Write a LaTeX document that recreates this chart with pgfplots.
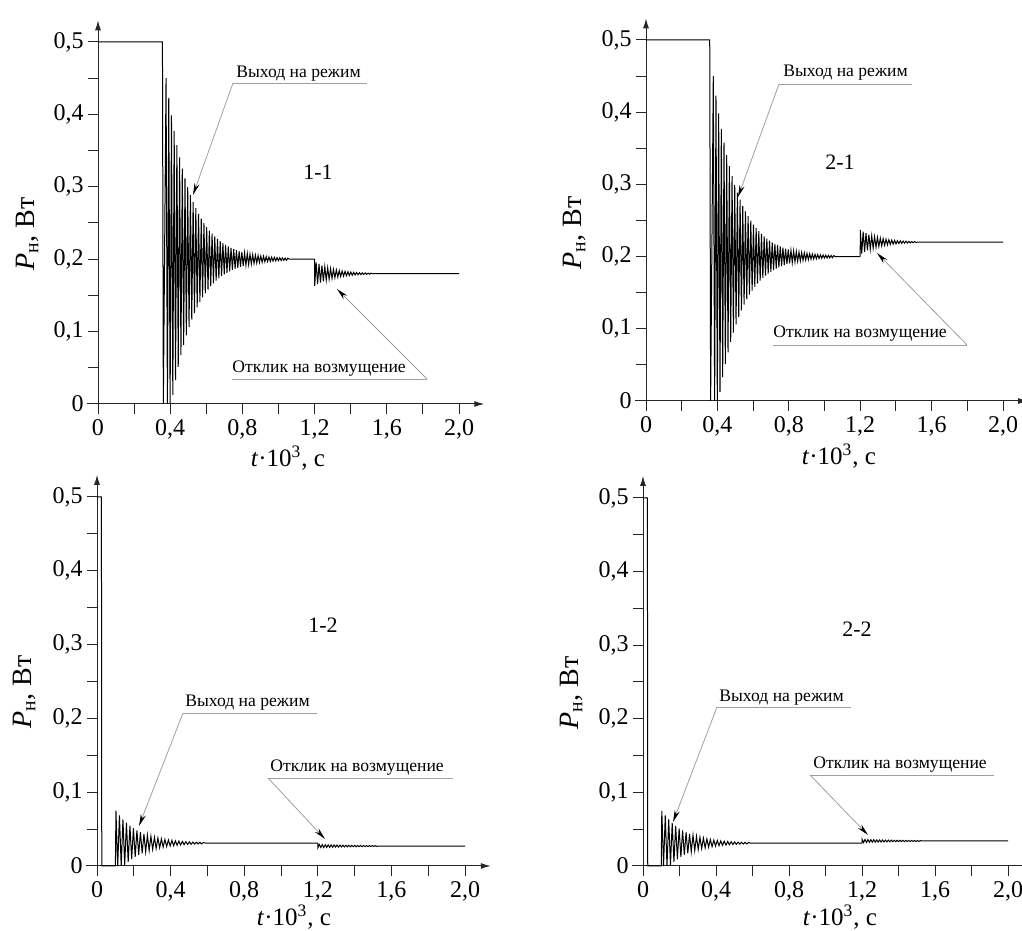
\documentclass[border=0pt]{standalone}
\usepackage{fontspec}
\setmainfont{Liberation Serif}
\usepackage{pgfplots}
\usepackage{pgfplotstable}
\pgfplotsset{compat=1.18}
\usetikzlibrary{arrows.meta}

% main transient, top row (1-1, 2-1)
\pgfplotstableread{
t p
0 0.5
0.357 0.5
0.362 0
0.377 0.450
0.3845 0
0.392 0.4228
0.3995 0
0.407 0.3985
0.4145 0.0126
0.422 0.3769
0.4295 0.0330
0.437 0.3577
0.4445 0.0512
0.452 0.3405
0.4595 0.0674
0.467 0.3252
0.4745 0.0818
0.482 0.3116
0.4895 0.0947
0.497 0.2994
0.5045 0.1061
0.512 0.2886
0.5195 0.1164
0.527 0.2790
0.5345 0.1255
0.542 0.2704
0.5495 0.1336
0.557 0.2627
0.5645 0.1408
0.572 0.2559
0.5795 0.1472
0.587 0.2498
0.5945 0.1530
0.602 0.2444
0.6095 0.1581
0.617 0.2396
0.6245 0.1627
0.632 0.2352
0.6395 0.1667
0.647 0.2314
0.6545 0.1704
0.662 0.2280
0.6695 0.1736
0.677 0.2249
0.6845 0.1765
0.692 0.2222
0.6995 0.1790
0.707 0.2198
0.7145 0.1813
0.722 0.2177
0.7295 0.1833
0.737 0.2157
0.7445 0.1852
0.752 0.2140
0.7595 0.1868
0.767 0.2125
0.7745 0.1882
0.782 0.2111
0.7895 0.1895
0.797 0.2099
0.8045 0.1906
0.812 0.2088
0.8195 0.1917
0.827 0.2079
0.8345 0.1926
0.842 0.2070
0.8495 0.1934
0.857 0.2063
0.8645 0.1941
0.872 0.2056
0.8795 0.1947
0.887 0.2050
0.8945 0.1953
0.902 0.2044
0.9095 0.1958
0.917 0.2040
0.9245 0.1963
0.932 0.2035
0.9395 0.1967
0.947 0.2031
0.9545 0.1970
0.962 0.2028
0.9695 0.1974
0.977 0.2025
0.9845 0.1977
0.992 0.2022
0.9995 0.1979
1.007 0.2020
1.0145 0.1981
1.022 0.2018
1.0295 0.1983
1.037 0.2016
1.0445 0.1985
1.052 0.2014
1.06 0.2
1.2 0.2
}\mainTop

% main transient, bottom row (1-2, 2-2)
\pgfplotstableread{
t p
0 0.5
0.024 0.5
0.026 0
0.100 0
0.103 0.075
0.1125 0
0.122 0.0686
0.1315 0
0.141 0.0632
0.1505 0.0012
0.160 0.0586
0.1695 0.0055
0.179 0.0546
0.1885 0.0092
0.198 0.0512
0.2075 0.0123
0.217 0.0483
0.2265 0.0150
0.236 0.0458
0.2455 0.0173
0.255 0.0436
0.2645 0.0193
0.274 0.0418
0.2835 0.0210
0.293 0.0402
0.3025 0.0225
0.312 0.0389
0.3215 0.0237
0.331 0.0378
0.3405 0.0247
0.350 0.0368
0.3595 0.0256
0.369 0.0360
0.3785 0.0264
0.388 0.0352
0.3975 0.0271
0.407 0.0346
0.4165 0.0276
0.426 0.0341
0.4355 0.0281
0.445 0.0337
0.4545 0.0285
0.464 0.0333
0.4735 0.0289
0.483 0.0330
0.4925 0.0292
0.502 0.0327
0.5115 0.0294
0.521 0.0324
0.5305 0.0297
0.540 0.0322
0.5495 0.0299
0.559 0.0321
0.5685 0.0300
0.578 0.0319
0.59 0.031
1.2 0.031
}\mainBot

% response to disturbance, 1-1
\pgfplotstableread{
t p
1.2 0.2
1.2005 0.163
1.2085 0.1957
1.2165 0.1655
1.2245 0.1934
1.2325 0.1677
1.2405 0.1914
1.2485 0.1695
1.2565 0.1897
1.2645 0.1711
1.2725 0.1882
1.2805 0.1724
1.2885 0.1870
1.2965 0.1735
1.3045 0.1860
1.3125 0.1745
1.3205 0.1851
1.3285 0.1753
1.3365 0.1843
1.3445 0.1760
1.3525 0.1837
1.3605 0.1766
1.3685 0.1832
1.3765 0.1771
1.3845 0.1827
1.3925 0.1775
1.4005 0.1823
1.4085 0.1779
1.4165 0.1819
1.4245 0.1782
1.4325 0.1816
1.4405 0.1785
1.4485 0.1814
1.4565 0.1787
1.4645 0.1812
1.4725 0.1789
1.4805 0.1810
1.4885 0.1791
1.4965 0.1808
1.5045 0.1792
1.5125 0.1807
1.52 0.18
2.0 0.18
}\distA

% response to disturbance, 2-1
\pgfplotstableread{
t p
1.2 0.2
1.2005 0.2370
1.2085 0.2043
1.2165 0.2345
1.2245 0.2066
1.2325 0.2323
1.2405 0.2086
1.2485 0.2305
1.2565 0.2103
1.2645 0.2289
1.2725 0.2118
1.2805 0.2276
1.2885 0.2130
1.2965 0.2265
1.3045 0.2140
1.3125 0.2255
1.3205 0.2149
1.3285 0.2247
1.3365 0.2157
1.3445 0.2240
1.3525 0.2163
1.3605 0.2234
1.3685 0.2168
1.3765 0.2229
1.3845 0.2173
1.3925 0.2225
1.4005 0.2177
1.4085 0.2221
1.4165 0.2181
1.4245 0.2218
1.4325 0.2184
1.4405 0.2215
1.4485 0.2186
1.4565 0.2213
1.4645 0.2188
1.4725 0.2211
1.4805 0.2190
1.4885 0.2209
1.4965 0.2192
1.5045 0.2208
1.5125 0.2193
1.52 0.22
2.0 0.22
}\distB

% response to disturbance, 1-2
\pgfplotstableread{
t p
1.2 0.031
1.2005 0.0248
1.2085 0.0291
1.2165 0.0250
1.2245 0.0290
1.2325 0.0251
1.2405 0.0288
1.2485 0.0252
1.2565 0.0287
1.2645 0.0253
1.2725 0.0286
1.2805 0.0255
1.2885 0.0285
1.2965 0.0256
1.3045 0.0284
1.3125 0.0257
1.3205 0.0283
1.3285 0.0258
1.3365 0.0282
1.3445 0.0258
1.3525 0.0281
1.3605 0.0259
1.3685 0.0280
1.3765 0.0260
1.3845 0.0280
1.3925 0.0261
1.4005 0.0279
1.4085 0.0261
1.4165 0.0278
1.4245 0.0262
1.4325 0.0278
1.4405 0.0262
1.4485 0.0277
1.4565 0.0263
1.4645 0.0277
1.4725 0.0263
1.4805 0.0276
1.4885 0.0264
1.4965 0.0276
1.5045 0.0264
1.5125 0.0276
1.5205 0.0265
1.53 0.027
2.0 0.027
}\distC

% response to disturbance, 2-2
\pgfplotstableread{
t p
1.2 0.031
1.2005 0.0362
1.2085 0.0319
1.2165 0.0360
1.2245 0.0320
1.2325 0.0359
1.2405 0.0322
1.2485 0.0358
1.2565 0.0323
1.2645 0.0357
1.2725 0.0324
1.2805 0.0355
1.2885 0.0325
1.2965 0.0354
1.3045 0.0326
1.3125 0.0353
1.3205 0.0327
1.3285 0.0352
1.3365 0.0328
1.3445 0.0352
1.3525 0.0329
1.3605 0.0351
1.3685 0.0330
1.3765 0.0350
1.3845 0.0330
1.3925 0.0349
1.4005 0.0331
1.4085 0.0349
1.4165 0.0332
1.4245 0.0348
1.4325 0.0332
1.4405 0.0348
1.4485 0.0333
1.4565 0.0347
1.4645 0.0333
1.4725 0.0347
1.4805 0.0334
1.4885 0.0346
1.4965 0.0334
1.5045 0.0346
1.5125 0.0334
1.5205 0.0345
1.53 0.034
2.0 0.034
}\distD

\pgfplotsset{
  panel/.style={
    axis lines=left, anchor=south west, clip=false,
    xmin=0, xmax=2.14, ymin=0, ymax=0.53,
    axis line style={line width=0.5pt, black!85, -{Latex[length=5pt,width=3pt]}},
    tick align=outside, major tick length=5pt, minor tick length=5pt,
    tick style={line width=0.5pt, black!85},
    xtick={0,0.4,0.8,1.2,1.6,2.0},
    xticklabels={0,{0,4},{0,8},{1,2},{1,6},{2,0}},
    minor xtick={0.2,0.6,1.0,1.4,1.8},
    ytick={0,0.1,0.2,0.3,0.4,0.5},
    yticklabels={0,{0,1},{0,2},{0,3},{0,4},{0,5}},
    minor ytick={0.05,0.15,0.25,0.35,0.45},
    tick label style={font=\fontsize{12}{14}\selectfont},
    yticklabel style={inner sep=2pt},
    xticklabel style={inner sep=2.5pt},
  },
  sig/.style={black, line width=0.5pt, no marks},
}

\newcommand{\lblfont}{\fontsize{8.8}{10}\selectfont}

\begin{document}
\begin{tikzpicture}
\useasboundingbox (0,0) rectangle (511pt,465.5pt);

\begin{axis}[panel, at={(49pt,263.5pt)}, x=90.25pt, y=362pt]
\addplot[sig] table[x=t,y=p] {\mainTop};
\addplot[sig] table[x=t,y=p] {\distA};
\end{axis}

\begin{axis}[panel, at={(323pt,265pt)}, x=89.25pt, y=361pt]
\addplot[sig] table[x=t,y=p] {\mainTop};
\addplot[sig] table[x=t,y=p] {\distB};
\end{axis}

\begin{axis}[panel, at={(48.5pt,32.5pt)}, x=92pt, y=369pt]
\addplot[sig] table[x=t,y=p] {\mainBot};
\addplot[sig] table[x=t,y=p] {\distC};
\end{axis}

\begin{axis}[panel, at={(321.5pt,32.5pt)}, x=91.25pt, y=368pt]
\addplot[sig] table[x=t,y=p] {\mainBot};
\addplot[sig] table[x=t,y=p] {\distD};
\end{axis}

% annotations in image pixel units
\begin{scope}[x=0.5pt, y=-0.5pt, shift={(0pt,465.5pt)}]
  \tikzset{lead/.style={gray!75, line width=0.4pt},
           arr/.style={lead, -{Stealth[length=6pt,width=2.6pt,color=black]}}}
  % x axis stubs left of the y axis
  \draw[line width=0.5pt, black!85] (87,404) -- (98,404);
  \draw[line width=0.5pt, black!85] (635,401) -- (646,401);
  \draw[line width=0.5pt, black!85] (86,866) -- (97,866);
  \draw[line width=0.5pt, black!85] (632,866) -- (643,866);

  % axis titles
  \foreach \px/\py in {27/234, 574/233, 24/692, 571/693}
    \node[rotate=90, font=\fontsize{14}{16}\selectfont] at (\px,\py) {\textit{P}\textsubscript{н}, Вт};
  \foreach \px/\py in {288/458, 839/456, 294/917, 840/917}
    \node[font=\fontsize{12.5}{14}\selectfont, inner sep=0pt] at (\px,\py) {\textit{t}·10\textsuperscript{3}, с};

  % case numbers
  \node[font=\fontsize{11}{13}\selectfont] at (318,172) {1-1};
  \node[font=\fontsize{11}{13}\selectfont] at (840,162) {2-1};
  \node[font=\fontsize{11}{13}\selectfont] at (323,625) {1-2};
  \node[font=\fontsize{11}{13}\selectfont] at (857,629) {2-2};

  % 1-1
  \node[font=\lblfont, anchor=base west, inner sep=0pt] at (236,78) {Выход на режим};
  \draw[lead] (233,83) -- (367,83);
  \draw[arr] (233,83) -- (193,195);
  \node[font=\lblfont, anchor=base west, inner sep=0pt] at (232,373) {Отклик на возмущение};
  \draw[lead] (232,379) -- (427,379);
  \draw[arr] (427,379) -- (337,289);

  % 2-1
  \node[font=\lblfont, anchor=base west, inner sep=0pt] at (783,77) {Выход на режим};
  \draw[lead] (779,84) -- (912,84);
  \draw[arr] (779,84) -- (738,197);
  \node[font=\lblfont, anchor=base west, inner sep=0pt] at (773,338) {Отклик на возмущение};
  \draw[lead] (773,345) -- (967,345);
  \draw[arr] (967,345) -- (877,253);

  % 1-2
  \node[font=\lblfont, anchor=base west, inner sep=0pt] at (185,707) {Выход на режим};
  \draw[lead] (183,713) -- (317,713);
  \draw[arr] (183,713) -- (139,826);
  \node[font=\lblfont, anchor=base west, inner sep=0pt] at (270,772) {Отклик на возмущение};
  \draw[lead] (268,778) -- (453,778);
  \draw[arr] (268,778) -- (325,839);

  % 2-2
  \node[font=\lblfont, anchor=base west, inner sep=0pt] at (719,702) {Выход на режим};
  \draw[lead] (717,707) -- (851,707);
  \draw[arr] (717,707) -- (673,822);
  \node[font=\lblfont, anchor=base west, inner sep=0pt] at (813,769) {Отклик на возмущение};
  \draw[lead] (810,775) -- (994,775);
  \draw[arr] (810,775) -- (868,835);
\end{scope}
\end{tikzpicture}
\end{document}
